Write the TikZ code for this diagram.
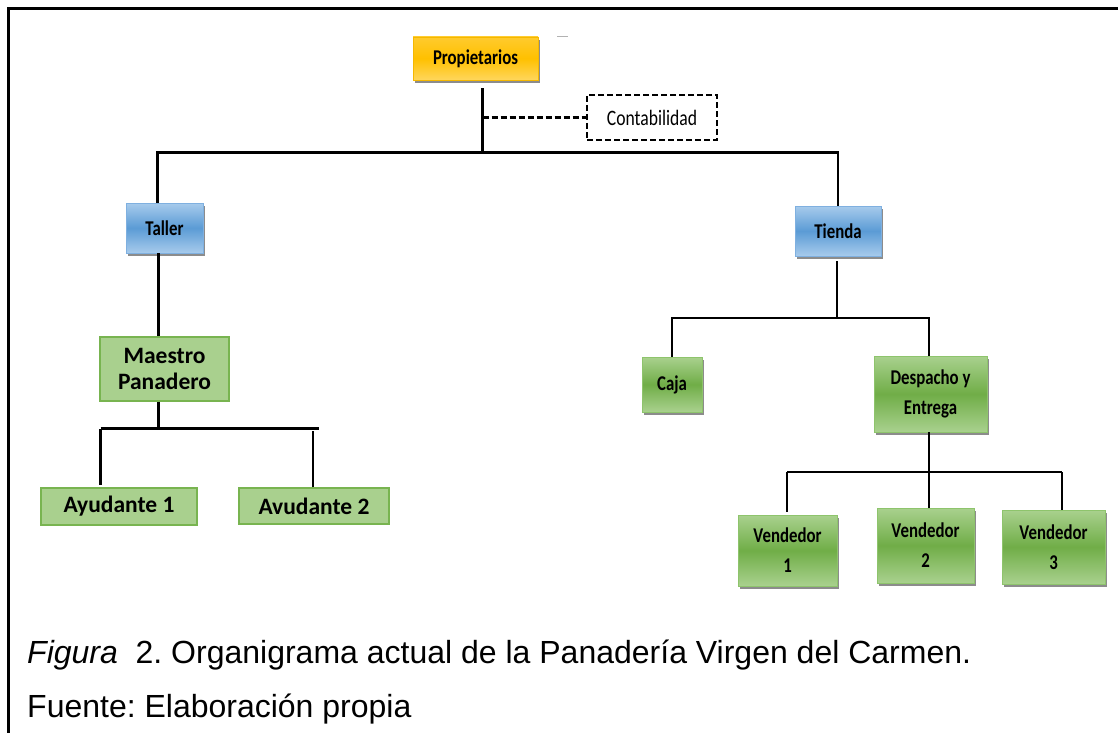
\documentclass[tikz,border=0pt]{standalone}
\usepackage{fontspec}
\setmainfont{Liberation Sans}
\newfontfamily\boxfont{Carlito}
\newfontfamily\narrowfont[FakeStretch=0.8]{Carlito}
\usetikzlibrary{shadows}
\frenchspacing

\definecolor{goldTop}{HTML}{FFCB2E}
\definecolor{goldMid}{HTML}{FFC000}
\definecolor{goldBot}{HTML}{FFD65C}
\definecolor{goldEdge}{HTML}{F5B800}
\definecolor{blueTop}{HTML}{A7CBEC}
\definecolor{blueMid}{HTML}{5B9BD5}
\definecolor{blueBot}{HTML}{A7CBEC}
\definecolor{blueEdge}{HTML}{7FB0E0}
\definecolor{greenTop}{HTML}{A9D18E}
\definecolor{greenMid}{HTML}{70AD47}
\definecolor{greenBot}{HTML}{A9D18E}
\definecolor{greenEdge}{HTML}{8EC46C}
\definecolor{flatGreen}{HTML}{A9D08E}
\definecolor{flatEdge}{HTML}{78B450}

\tikzset{
  orgbox/.style={rectangle, inner sep=0pt, align=center, text=black,
    font={\narrowfont\bfseries\fontsize{21}{30}\selectfont}},
  boxshadow/.style={drop shadow={shadow xshift=2pt, shadow yshift=-3pt,
    opacity=0.6, fill=black!75}},
  goldbox/.style={orgbox, boxshadow, top color=goldTop, bottom color=goldBot,
    middle color=goldMid, draw=goldEdge, line width=0.8pt},
  bluebox/.style={orgbox, boxshadow, top color=blueTop, bottom color=blueBot,
    middle color=blueMid, draw=blueEdge, line width=0.8pt},
  greenbox/.style={orgbox, boxshadow, top color=greenTop, bottom color=greenBot,
    middle color=greenMid, draw=greenEdge, line width=0.8pt},
  flatbox/.style={orgbox, fill=flatGreen, draw=flatEdge, line width=1.4pt,
    font={\boxfont\bfseries\fontsize{23.5}{26}\selectfont}},
  dashbox/.style={orgbox, fill=white, draw=black, line width=2.2pt,
    dash pattern=on 6pt off 3pt,
    font={\narrowfont\fontsize{22}{24}\selectfont}},
  conn/.style={draw=black, line width=2.8pt},
  dashconn/.style={draw=black, line width=2.4pt, dash pattern=on 6pt off 3pt},
  caption/.style={anchor=base west, inner sep=0pt, font={\fontsize{32}{36}\selectfont}}
}

\begin{document}
\begin{tikzpicture}[x=1pt, y=-1pt]
  \useasboundingbox (0,0) rectangle (1118,733);
  % frame: top and left edges
  \draw[black, line width=2.6pt] (1118,8.5) -- (8.5,8.5) -- (8.5,733);
  \draw[black!30, line width=1pt] (557,37) -- (568,37);

  % boxes
  \node[goldbox, minimum width=125pt, minimum height=43pt] (prop) at (475.5,58.5) {Propietarios};
  \node[dashbox, minimum width=130pt, minimum height=45pt] (conta) at (652,117.5) {Contabilidad};
  \node[bluebox, minimum width=77pt, minimum height=50pt] (taller) at (164.5,228) {Taller};
  \node[bluebox, minimum width=86pt, minimum height=50pt] (tienda) at (838,231) {Tienda};
  \node[flatbox, minimum width=129pt, minimum height=64pt] (maestro) at (164.5,369) {Maestro\\Panadero};
  \node[flatbox, minimum width=156pt, minimum height=37pt] (ayu1) at (119,506.5) {Ayudante 1};
  \node[flatbox, minimum width=150pt, minimum height=36pt] (ayu2) at (314,506) {Avudante 2};
  \node[greenbox, minimum width=60pt, minimum height=55pt] (caja) at (672,384.5) {Caja};
  \node[greenbox, minimum width=113pt, minimum height=76pt] (desp) at (930.5,394) {Despacho y\\Entrega};
  \node[greenbox, minimum width=99pt, minimum height=71pt] (v1) at (787.5,550.5) {Vendedor\\1};
  \node[greenbox, minimum width=97pt, minimum height=75pt] (v2) at (925.5,545.5) {Vendedor\\2};
  \node[greenbox, minimum width=103pt, minimum height=74pt] (v3) at (1053.5,547) {Vendedor\\3};

  % junction points
  \coordinate (busM) at (482.5,152.5);
  \coordinate (busL) at (157.5,152.5);
  \coordinate (busR) at (838,152.5);
  \coordinate (mj) at (158.5,428.5);
  \coordinate (mL) at (100.5,428.5);
  \coordinate (mR) at (319,428.5);
  \coordinate (tj) at (837,318);
  \coordinate (dj) at (929,472);
  \coordinate (dL) at (787,472);
  \coordinate (dR) at (1062,472);

  % top level
  \draw[conn] (prop.south -| busM) ++(0,8) -- (busM);
  \draw[dashconn] (busM |- conta) -- (conta.west);
  \draw[conn] (taller.north -| busL) -- (busL) -- (busR) -- (tienda.north -| busR);

  % workshop branch
  \draw[conn] (taller.south -| mj) -- (maestro.north -| mj);
  \draw[conn] (maestro.south -| mj) -- (mj);
  \draw[conn] (mL) -- (mR);
  \draw[conn] (mL) -- ([yshift=2pt]mL |- ayu1.north);
  \draw[conn] ([xshift=-1pt]ayu2.north) -- ++(0,-56);

  % shop branch
  \draw[conn] (tienda.south -| tj) ++(0,5) -- (tj);
  \draw[conn] (caja.north) |- (tj) -| (desp.north -| dj);
  \draw[conn] (desp.south -| dj) -- (dj);
  \draw[conn] (dL) -- (dR);
  \draw[conn] (dL) -- ([yshift=3pt]dL |- v1.north);
  \draw[conn] (dj) -- (dj |- v2.north);
  \draw[conn] (dR) -- (dR |- v3.north);

  % caption
  \node[caption] (cap1) at (27,663) {\textit{Figura}\ \ 2. Organigrama actual de la Panadería Virgen del Carmen.};
  \node[caption] (cap2) at (27,717) {Fuente: Elaboración propia};
\end{tikzpicture}
\end{document}
